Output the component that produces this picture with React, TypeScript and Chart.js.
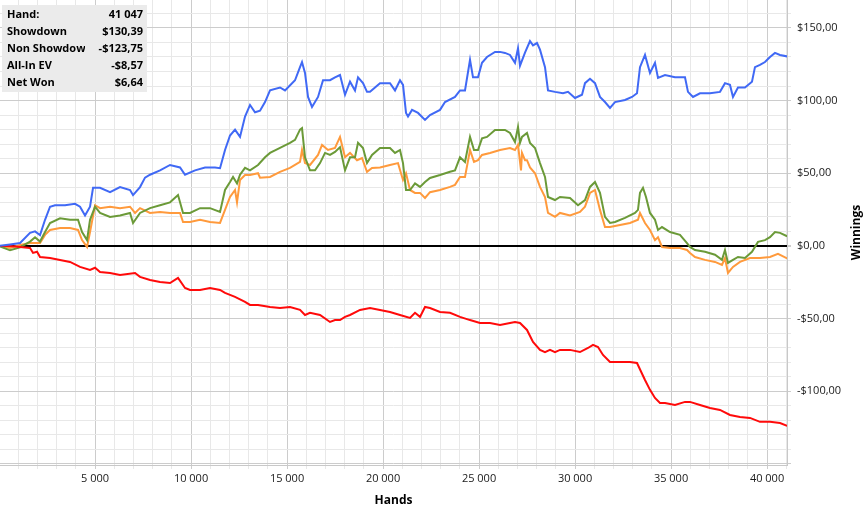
import React, { useEffect, useRef } from 'react';
import { Chart, registerables } from 'chart.js';

Chart.register(...registerables);

type P = [number, number];

// [hand, winnings] pairs
const showdown: P[] = [
  [0, 0], [573, 1], [1094, 2], [1614, 9], [1875, 10], [2135, 7.5], [2396, 18], [2656, 27], [2917, 28], [3437, 28],
  [3958, 29], [4218, 27], [4479, 21], [4739, 27], [4896, 40], [5260, 40], [5781, 37], [6302, 40.5], [6822, 38.5], [6979, 35],
  [7343, 40.5], [7604, 47], [7864, 49], [8385, 52], [8906, 55.7], [9427, 54], [9687, 49], [10208, 52], [10729, 54], [11249, 54],
  [11510, 53.5], [11770, 66], [12030, 76], [12291, 80], [12551, 75], [12812, 89], [13072, 97], [13332, 92], [13593, 93], [13853, 99],
  [14114, 107], [14634, 109], [14895, 107], [15416, 114], [15676, 123], [15780, 126.5], [15936, 119], [16093, 102.5], [16301, 95.6], [16614, 102.5],
  [16874, 114], [17238, 114], [17499, 116], [17759, 117.6], [18020, 104], [18280, 113], [18540, 107], [18697, 116], [18957, 112], [19165, 106],
  [19322, 106], [19582, 109], [19842, 112], [20363, 112], [20624, 107], [20884, 114], [21040, 110.8], [21197, 91.5], [21301, 89], [21509, 93.6],
  [21822, 91.5], [22186, 86.7], [22446, 90], [22967, 93.6], [23228, 99], [23748, 102.5], [24009, 107], [24269, 107], [24530, 128], [24686, 116],
  [24946, 116], [25155, 126], [25415, 130], [25832, 133.5], [26092, 133.5], [26352, 132.8], [26613, 131.4], [26873, 126], [27030, 136], [27134, 124],
  [27394, 133], [27654, 141], [27811, 138], [28019, 139.6], [28175, 135], [28436, 123], [28592, 107], [28956, 106], [29373, 105], [29634, 106],
  [29998, 101.8], [30363, 104], [30519, 112], [30779, 115], [31040, 112], [31300, 102.5], [31560, 99], [31821, 95], [32081, 99], [32602, 100.4],
  [32967, 102.5], [33227, 105], [33383, 123], [33644, 131.4], [33904, 119], [34164, 126], [34321, 115.6], [34685, 117.6], [35206, 116], [35727, 116],
  [35883, 106], [36144, 102.5], [36508, 105], [37029, 105], [37550, 106], [37810, 112], [38070, 110.8], [38227, 102.5], [38487, 109], [38852, 109],
  [39216, 113], [39372, 123], [39633, 124.5], [39893, 126.5], [40154, 130], [40414, 132.8], [40675, 131.4], [41047, 130.39],
];

const netWon: P[] = [
  [0, 0], [573, -3], [1094, -1], [1614, 3], [1875, 6], [2135, 3], [2396, 9.6], [2656, 15.8], [3177, 19], [3698, 18],
  [4114, 18], [4323, 9.6], [4583, 4], [4739, 18], [5000, 27], [5260, 22.7], [5781, 20], [6302, 21], [6822, 22.7], [6979, 15.8],
  [7343, 22.7], [7864, 26], [8385, 28], [8906, 30], [9322, 35], [9583, 22.7], [9947, 22.7], [10468, 26], [10989, 26], [11510, 23.4],
  [11770, 38.5], [12030, 44], [12187, 47.5], [12395, 43], [12551, 49], [12812, 53.7], [13072, 52], [13489, 55.7], [13853, 61], [14114, 64],
  [14634, 67.4], [15155, 70.9], [15416, 73], [15676, 80], [15780, 81], [15936, 61], [16197, 52], [16457, 52], [16718, 57], [16978, 64],
  [17238, 62.6], [17499, 64.7], [17759, 68], [18020, 52], [18280, 61], [18540, 61], [18697, 70.9], [18957, 67.4], [19165, 57], [19426, 62.6],
  [19842, 67.4], [20363, 67.4], [20624, 64], [20884, 66], [21040, 57], [21197, 38.5], [21405, 38.5], [21665, 43], [21926, 40.6], [22186, 44],
  [22446, 46.8], [22967, 48.8], [23488, 51], [23748, 52], [24009, 61], [24269, 57.8], [24530, 75], [24738, 66], [24946, 66], [25155, 74],
  [25415, 75], [25832, 79.8], [26352, 79.8], [26613, 77.7], [26873, 71.5], [27030, 81.9], [27134, 70.9], [27238, 75], [27498, 77.7], [27654, 70.9],
  [27915, 67.4], [28175, 57], [28436, 47.5], [28592, 33.7], [28956, 31.6], [29217, 33.7], [29738, 33], [30154, 28], [30519, 31.6], [30779, 40.6],
  [31040, 44], [31300, 36.5], [31560, 20], [31821, 15.8], [32081, 16.5], [32602, 19.3], [33123, 22.7], [33279, 24.8], [33383, 36.5], [33540, 40],
  [33696, 33.7], [33904, 22.7], [34164, 18], [34321, 11], [34529, 13], [34946, 9.6], [35466, 7.6], [35831, 2], [35987, -0.7], [36248, -2.8],
  [36768, -4], [37289, -6], [37654, -9.6], [37810, -2.8], [37966, -11.7], [38227, -9.6], [38487, -7.6], [38852, -8.3], [39216, -4], [39529, 2.8],
  [39893, 4], [40154, 6], [40414, 9.6], [40675, 9], [41047, 6.64],
];

const allInEv: P[] = [
  [0, 0], [573, -1.4], [1094, 0.7], [1614, 2], [2135, 2], [2396, 7.6], [2656, 11], [3177, 12.4], [3698, 12.4], [4114, 11],
  [4323, 4], [4583, -0.7], [4739, 9.6], [5000, 28], [5260, 26], [5781, 27], [6302, 26], [6822, 27], [7083, 22.7], [7343, 26],
  [7864, 22.7], [8385, 23.4], [8906, 22.7], [9427, 22.7], [9583, 16.5], [9947, 16.5], [10468, 18], [10989, 16.5], [11510, 15.8], [11770, 24.8],
  [12030, 33.7], [12291, 38.5], [12395, 30], [12551, 45.4], [12812, 48.8], [13072, 48.8], [13489, 50], [13593, 47], [14114, 47.5], [14634, 51],
  [15155, 53.7], [15676, 57.8], [15780, 66], [15936, 57], [16197, 55.7], [16614, 62.6], [16822, 69.5], [17134, 66], [17499, 67.4], [17759, 75],
  [18020, 61], [18280, 64], [18645, 59], [18905, 60.5], [19165, 51], [19426, 53.7], [19842, 54], [20363, 55.7], [20780, 57], [21040, 45.4],
  [21197, 50], [21405, 38.5], [21665, 36.5], [21926, 36.5], [22186, 33], [22446, 37], [22967, 38.5], [23488, 40.6], [23748, 42], [24009, 47.5],
  [24269, 47.5], [24530, 66], [24738, 57.8], [24946, 59], [25155, 62.6], [25571, 64], [26092, 66], [26613, 67.4], [26873, 66], [27030, 69.5],
  [27186, 52], [27238, 64], [27394, 59], [27498, 59], [27654, 54], [27915, 50], [28175, 40.6], [28436, 33.7], [28592, 22.7], [28956, 20],
  [29217, 22.7], [29738, 21], [30258, 23.4], [30519, 27], [30779, 36.5], [31040, 38.5], [31300, 24.8], [31560, 13], [31821, 13], [32342, 14.4],
  [32862, 15.8], [33279, 18], [33383, 22.7], [33644, 15.8], [33904, 11], [34164, 4], [34321, 6], [34529, -0.7], [34946, -1.4], [35466, -1.4],
  [35831, -2.8], [35987, -4.8], [36248, -7.6], [36768, -9.6], [37289, -11], [37654, -13], [37810, -8.3], [37966, -18.6], [38227, -14.4], [38591, -11],
  [39112, -8.3], [39633, -8.3], [40154, -7.6], [40570, -5.5], [41047, -8.57],
];

const nonShowdown: P[] = [
  [0, 0], [573, 0], [1094, -0.7], [1614, -1.4], [1771, -4.8], [1979, -4], [2135, -7.6], [2656, -8.3], [3177, -9.6], [3698, -11],
  [4218, -14.4], [4739, -16.5], [5000, -15], [5260, -17.9], [5781, -18.6], [6302, -20], [7083, -18.6], [7343, -21.3], [7864, -23.4], [8385, -24.8],
  [8906, -25.5], [9322, -22], [9687, -28.9], [9947, -30.3], [10468, -30.3], [10989, -28.9], [11510, -30.3], [11770, -32.3], [12291, -35], [12812, -38.5],
  [13072, -40.6], [13489, -40.6], [14114, -42], [14634, -42.7], [15155, -42], [15676, -44], [15936, -47.5], [16197, -46], [16718, -47.5], [17238, -52.3],
  [17499, -51], [17759, -51], [18020, -48.8], [18280, -47.5], [18801, -44], [19322, -42.7], [19842, -44], [20363, -45.4], [20884, -47.5], [21405, -49.5],
  [21665, -46], [21926, -48.8], [22186, -42], [22446, -42.7], [22967, -45.4], [23488, -46], [24009, -48.8], [24530, -51], [25050, -53], [25571, -53],
  [26092, -54.3], [26613, -53], [26873, -52.3], [27134, -53], [27498, -57.8], [27811, -66], [28175, -71.5], [28436, -73], [28696, -71.5], [28956, -73],
  [29217, -71.5], [29738, -71.5], [30258, -73], [30675, -70.2], [30936, -68], [31196, -69.5], [31456, -75], [31821, -79.8], [32342, -79.8], [32862, -79.8],
  [33227, -80.5], [33644, -92.2], [33904, -99], [34164, -104.6], [34425, -108], [34685, -108], [35206, -109.4], [35727, -107.3], [35987, -107.3], [36508, -109.4],
  [37029, -111.5], [37550, -112.8], [38070, -116.3], [38591, -117.6], [39112, -118.3], [39633, -121], [40154, -121], [40675, -121.8], [41047, -123.75],
];

const summaryLabels = ['Hand:', 'Showdown', 'Non Showdown', 'All-In EV', 'Net Won'];
const summaryValues = ['41 047', '$130,39', '-$123,75', '-$8,57', '$6,64'];

const xMajorTicks = [5000, 10000, 15000, 20000, 25000, 30000, 35000, 40000];
const yMajorTicks = [-150, -100, -50, 0, 50, 100, 150];

const X_MIN = 50;
const X_MAX = 41040;
const Y_MIN = -150.7;
const Y_MAX = 169.2;

const FONT = "'Open Sans', 'Noto Sans', sans-serif";

const fmtHands = (v: number) => String(v).replace(/\B(?=(\d{3})+(?!\d))/g, ' ');
const fmtMoney = (v: number) => (v < 0 ? '-' : '') + '$' + Math.abs(v).toFixed(2).replace('.', ',');

const MAJOR = 'rgb(204,204,204)';
const MINOR = 'rgb(232,232,232)';

const overlayPlugin = {
  id: 'overlay',
  afterDraw(chart: any) {
    const ctx: CanvasRenderingContext2D = chart.ctx;
    const { left, right, top, bottom } = chart.chartArea;
    ctx.save();
    ctx.fillStyle = 'rgb(235,235,235)';
    ctx.fillRect(2, 5, 145, 87);
    ctx.fillStyle = '#000';
    ctx.textBaseline = 'middle';
    ctx.font = `bold 11px ${FONT}`;
    summaryLabels.forEach((label, i) => {
      const y = 15 + i * 17;
      ctx.save();
      ctx.beginPath();
      ctx.rect(2, y - 9, 83, 18);
      ctx.clip();
      ctx.textAlign = 'left';
      ctx.fillText(label, 7, y);
      ctx.restore();
      ctx.textAlign = 'right';
      ctx.fillText(summaryValues[i], 143, y);
    });
    ctx.font = `bold 12px ${FONT}`;
    ctx.textAlign = 'center';
    ctx.fillText('Hands', (left + right) / 2, 501);
    ctx.translate(857, (top + bottom) / 2);
    ctx.rotate(-Math.PI / 2);
    ctx.fillText('Winnings', 0, 0);
    ctx.restore();
  },
};

export default function App() {
  const ref = useRef<HTMLCanvasElement | null>(null);

  useEffect(() => {
    document.body.style.margin = '0';
    if (!ref.current) return;
    const toXY = (arr: P[]) => arr.map(([x, y]) => ({ x, y }));
    const common = { pointRadius: 0, borderWidth: 2, tension: 0, fill: false };
    const chart = new Chart(ref.current, {
      type: 'line',
      data: {
        datasets: [
          { label: 'Showdown', data: toXY(showdown), borderColor: '#4069f5', ...common },
          { label: 'Non Showdown', data: toXY(nonShowdown), borderColor: '#ff0a0a', ...common },
          { label: 'Net Won', data: toXY(netWon), borderColor: '#6b9a38', ...common },
          { label: 'All-In EV', data: toXY(allInEv), borderColor: '#ff9a3c', ...common },
        ],
      },
      options: {
        animation: false,
        responsive: false,
        layout: { padding: 0 },
        plugins: { legend: { display: false }, tooltip: { enabled: false } },
        scales: {
          x: {
            type: 'linear',
            position: 'bottom',
            min: X_MIN,
            max: X_MAX,
            afterBuildTicks: (scale: any) => {
              const t = [];
              for (let v = 1000; v <= 41000; v += 1000) t.push({ value: v });
              scale.ticks = t;
            },
            afterFit: (scale: any) => {
              scale.height = 44;
              scale.paddingLeft = 0;
              scale.paddingRight = 0;
            },
            ticks: {
              autoSkip: false,
              maxRotation: 0,
              padding: 3,
              color: '#1a1a1a',
              font: { family: FONT, size: 11 },
              callback: (v: any) => (xMajorTicks.includes(Number(v)) ? fmtHands(Number(v)) : ''),
            },
            grid: {
              color: (c: any) => (c.tick && c.tick.value % 5000 === 0 ? MAJOR : MINOR),
              tickColor: (c: any) => (c.tick && c.tick.value % 5000 === 0 ? MAJOR : MINOR),
              tickLength: 4,
              lineWidth: 1,
            },
            border: { color: 'rgb(200,200,200)', width: 1 },
          },
          y: {
            type: 'linear',
            position: 'right',
            min: Y_MIN,
            max: Y_MAX,
            afterBuildTicks: (scale: any) => {
              const t = [];
              for (let v = -150; v <= 160; v += 10) t.push({ value: v });
              scale.ticks = t;
            },
            afterFit: (scale: any) => {
              scale.width = 78;
              scale.paddingTop = 0;
              scale.paddingBottom = 0;
            },
            ticks: {
              autoSkip: false,
              padding: 6,
              color: '#1a1a1a',
              font: { family: FONT, size: 11 },
              callback: (v: any) => (yMajorTicks.includes(Number(v)) && Number(v) > -150 ? fmtMoney(Number(v)) : ''),
            },
            grid: {
              color: (c: any) => {
                const v = c.tick ? c.tick.value : 1;
                if (v === 0) return '#000';
                return v % 50 === 0 ? MAJOR : MINOR;
              },
              lineWidth: (c: any) => (c.tick && c.tick.value === 0 ? 2 : 1),
              tickColor: (c: any) => (c.tick && c.tick.value % 50 === 0 ? MAJOR : MINOR),
              tickLength: 4,
            },
            border: { color: 'rgb(200,200,200)', width: 1 },
          },
        },
      },
      plugins: [overlayPlugin],
    } as any);
    return () => chart.destroy();
  }, []);

  return (
    <div style={{ width: 865, height: 509 }}>
      <canvas ref={ref} width={865} height={509} style={{ display: 'block' }} />
    </div>
  );
}
